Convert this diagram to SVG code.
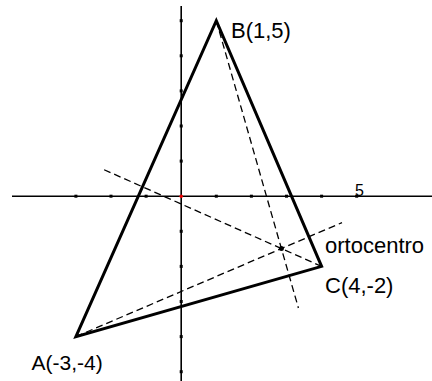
<svg xmlns="http://www.w3.org/2000/svg" width="432" height="381" viewBox="0 0 432 381">
<style>
.axis{stroke:#000;stroke-width:1.6;fill:none}
.tick{fill:#000}
.tri{stroke:#000;stroke-width:3;fill:none;stroke-linejoin:miter}
.alt{stroke:#000;stroke-width:1.3;fill:none;stroke-dasharray:7,4}
.lbl{font-family:"Liberation Sans",Arial,sans-serif;font-size:22px;fill:#000}
</style>
<rect width="432" height="381" fill="#fff"/>
<g id="axes">
<line class="axis" x1="12" y1="196.2" x2="432" y2="196.2"/>
<line class="axis" x1="181.2" y1="6" x2="181.2" y2="381"/>
<g class="tick">
<rect x="74.4" y="194.7" width="3" height="3"/>
<rect x="109.5" y="194.7" width="3" height="3"/>
<rect x="144.6" y="194.7" width="3" height="3"/>
<rect x="214.8" y="194.7" width="3" height="3"/>
<rect x="249.9" y="194.7" width="3" height="3"/>
<rect x="285" y="194.7" width="3" height="3"/>
<rect x="320.1" y="194.7" width="3" height="3"/>
<rect x="355.2" y="194.7" width="3" height="3"/>
<rect x="179.7" y="19.2" width="3" height="3"/>
<rect x="179.7" y="54.3" width="3" height="3"/>
<rect x="179.7" y="89.4" width="3" height="3"/>
<rect x="179.7" y="124.5" width="3" height="3"/>
<rect x="179.7" y="159.6" width="3" height="3"/>
<rect x="179.7" y="229.8" width="3" height="3"/>
<rect x="179.7" y="264.9" width="3" height="3"/>
<rect x="179.7" y="300" width="3" height="3"/>
<rect x="179.7" y="335.1" width="3" height="3"/>
<rect x="179.7" y="370.2" width="3" height="3"/>
</g>
<circle cx="181.2" cy="196.2" r="1.8" fill="#e00"/>
<text x="355" y="196" style="font-family:'Liberation Sans',Arial,sans-serif;font-size:16px">5</text>
</g>
<g id="connectors">
<line class="alt" x1="216.3" y1="20.7" x2="298.4" y2="308"/>
<line class="alt" x1="75.9" y1="336.6" x2="342" y2="222.6"/>
<line class="alt" x1="321.6" y1="266.4" x2="104" y2="169.7"/>
</g>
<g id="triangle">
<polygon class="tri" points="75.9,336.6 216.3,20.7 321.6,266.4"/>
</g>
<g id="A"><text class="lbl" x="31.5" y="370" style="font-size:21px">A(-3,-4)</text></g>
<g id="B"><text class="lbl" x="231" y="38">B(1,5)</text></g>
<g id="C"><text class="lbl" x="325" y="293">C(4,-2)</text></g>
<g id="H">
<circle cx="281.4" cy="248.5" r="2.5" fill="#000"/>
<text class="lbl" x="325" y="253">ortocentro</text>
</g>
</svg>
